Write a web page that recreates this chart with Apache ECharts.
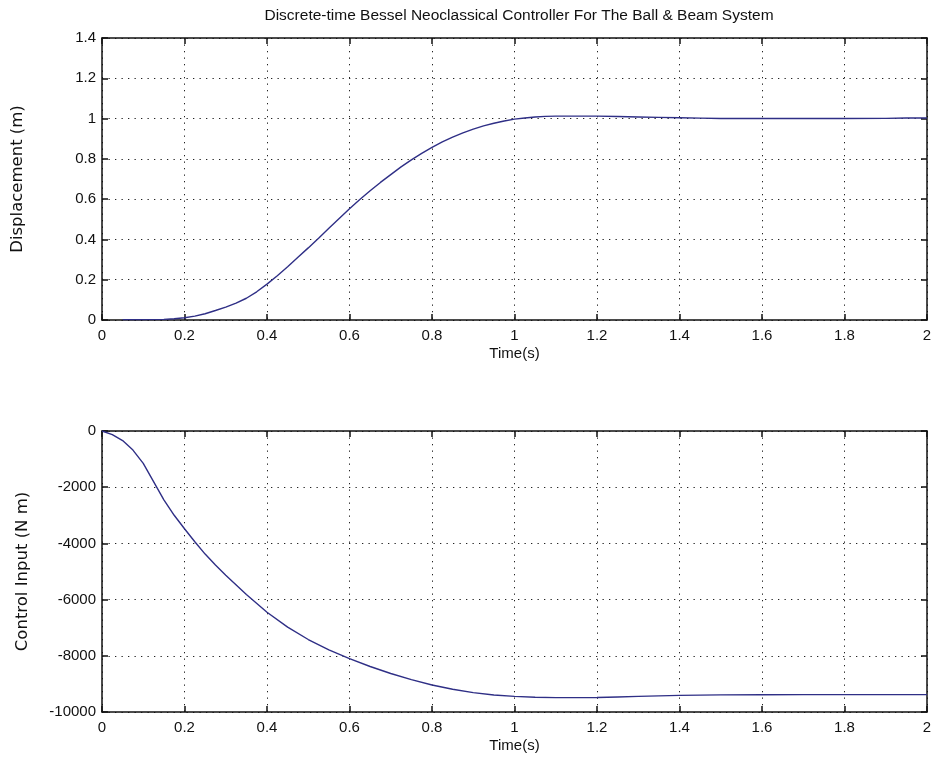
<!DOCTYPE html>
<html>
<head>
<meta charset="utf-8">
<script src="https://cdn.jsdelivr.net/npm/echarts@6/dist/echarts.min.js"></script>
<style>
  html, body { margin: 0; padding: 0; background: #ffffff; }
  #chart { width: 935px; height: 765px; }
</style>
</head>
<body>
<div id="chart"></div>
<script>
// Ball position response (m)
const timeDisp = [0.05, 0.10, 0.15, 0.175, 0.20, 0.225, 0.25, 0.275, 0.30, 0.325,
  0.35, 0.375, 0.40, 0.425, 0.45, 0.475, 0.50, 0.525, 0.55, 0.575,
  0.60, 0.625, 0.65, 0.675, 0.70, 0.725, 0.75, 0.775, 0.80, 0.825,
  0.85, 0.875, 0.90, 0.925, 0.95, 0.975, 1.00, 1.025, 1.05, 1.075,
  1.10, 1.15, 1.20, 1.25, 1.30, 1.35, 1.40, 1.45, 1.50, 1.60,
  1.70, 1.80, 1.90, 1.95, 2.00];
const displacement = [0.002, 0.002, 0.003, 0.006, 0.011, 0.019, 0.031, 0.047, 0.064, 0.084,
  0.108, 0.140, 0.178, 0.220, 0.264, 0.311, 0.358, 0.406, 0.455, 0.504,
  0.552, 0.598, 0.642, 0.683, 0.722, 0.760, 0.795, 0.827, 0.857, 0.884,
  0.908, 0.929, 0.948, 0.964, 0.977, 0.988, 0.997, 1.003, 1.008, 1.011,
  1.012, 1.012, 1.012, 1.010, 1.008, 1.006, 1.004, 1.002, 1.000, 1.000,
  1.000, 1.000, 1.001, 1.003, 1.003];

// Beam torque command (N m)
const timeCtrl = [0.00, 0.025, 0.05, 0.075, 0.10, 0.125, 0.15, 0.175, 0.20, 0.225,
  0.25, 0.275, 0.30, 0.35, 0.40, 0.45, 0.50, 0.55, 0.60, 0.65,
  0.70, 0.75, 0.80, 0.85, 0.90, 0.95, 1.00, 1.05, 1.10, 1.15,
  1.20, 1.25, 1.30, 1.35, 1.40, 1.45, 1.50, 1.60, 1.70, 1.80,
  1.90, 2.00];
const controlInput = [0, -130, -340, -680, -1150, -1800, -2450, -3000, -3480, -3940,
  -4380, -4770, -5130, -5820, -6450, -6980, -7420, -7790, -8100, -8380,
  -8630, -8850, -9040, -9190, -9310, -9395, -9445, -9475, -9490, -9490,
  -9482, -9465, -9445, -9425, -9410, -9398, -9390, -9385, -9382, -9380,
  -9380, -9380];

// Axis ranges and tick spacing
const timeTicks = { min: 0, max: 2, interval: 0.2 };
const dispTicks = { min: 0, max: 1.4, interval: 0.2 };
const ctrlTicks = { min: -10000, max: 0, interval: 2000 };

const titleText = 'Discrete-time Bessel Neoclassical Controller For The Ball & Beam System';

const FONT = 'Liberation Sans';
const INK = '#111111';
const LINE = '#2f2f86';

const gridDotted = {
  show: true,
  lineStyle: { color: '#222222', width: 1, type: [1.3, 5.2] }
};

function fmt(v) {
  return String(Math.round(v * 1000) / 1000);
}

function mainX(gridIndex) {
  return {
    type: 'value', gridIndex, position: 'bottom',
    min: timeTicks.min, max: timeTicks.max, interval: timeTicks.interval,
    name: 'Time(s)', nameLocation: 'middle', nameGap: 26,
    nameTextStyle: { fontFamily: FONT, fontSize: 15, color: INK },
    axisLine: { show: true, onZero: false, lineStyle: { color: INK, width: 1.5 } },
    axisTick: { show: true, inside: true, length: 6, lineStyle: { color: INK, width: 1.5 } },
    axisLabel: { fontFamily: FONT, fontSize: 15, color: INK, margin: 8, formatter: fmt },
    splitLine: gridDotted
  };
}

function boxX(gridIndex) {
  return {
    type: 'value', gridIndex, position: 'top',
    min: timeTicks.min, max: timeTicks.max, interval: timeTicks.interval,
    axisLine: { show: true, onZero: false, lineStyle: { color: INK, width: 1.5 } },
    axisTick: { show: true, inside: true, length: 6, lineStyle: { color: INK, width: 1.5 } },
    axisLabel: { show: false },
    splitLine: { show: false }
  };
}

function mainY(gridIndex, ticks, name, gap) {
  return {
    type: 'value', gridIndex, position: 'left',
    min: ticks.min, max: ticks.max, interval: ticks.interval,
    name, nameLocation: 'middle', nameGap: gap,
    nameTextStyle: { fontFamily: 'DejaVu Sans', fontSize: 16.5, color: INK },
    axisLine: { show: true, onZero: false, lineStyle: { color: INK, width: 1.5 } },
    axisTick: { show: true, inside: true, length: 6, lineStyle: { color: INK, width: 1.5 } },
    axisLabel: { fontFamily: FONT, fontSize: 15, color: INK, margin: 6, formatter: fmt },
    splitLine: gridDotted
  };
}

function boxY(gridIndex, ticks) {
  return {
    type: 'value', gridIndex, position: 'right',
    min: ticks.min, max: ticks.max, interval: ticks.interval,
    axisLine: { show: true, onZero: false, lineStyle: { color: INK, width: 1.5 } },
    axisTick: { show: true, inside: true, length: 6, lineStyle: { color: INK, width: 1.5 } },
    axisLabel: { show: false },
    splitLine: { show: false }
  };
}

const chart = echarts.init(document.getElementById('chart'), null, { renderer: 'canvas' });

chart.setOption({
  backgroundColor: '#ffffff',
  animation: false,
  title: {
    text: titleText,
    left: 514, top: 3, textAlign: 'center',
    textStyle: { fontFamily: FONT, fontSize: 15.5, fontWeight: 'normal', color: INK }
  },
  grid: [
    { left: 102, top: 38, width: 825, height: 282 },
    { left: 102, top: 431, width: 825, height: 281 }
  ],
  xAxis: [mainX(0), boxX(0), mainX(1), boxX(1)],
  yAxis: [
    mainY(0, dispTicks, 'Displacement (m)', 76),
    boxY(0, dispTicks),
    mainY(1, ctrlTicks, 'Control Input (N m)', 71),
    boxY(1, ctrlTicks)
  ],
  series: [
    {
      type: 'line', xAxisIndex: 0, yAxisIndex: 0,
      data: timeDisp.map((t, i) => [t, displacement[i]]),
      showSymbol: false,
      lineStyle: { color: LINE, width: 1.4 }
    },
    {
      type: 'line', xAxisIndex: 2, yAxisIndex: 2,
      data: timeCtrl.map((t, i) => [t, controlInput[i]]),
      showSymbol: false,
      lineStyle: { color: LINE, width: 1.4 }
    }
  ]
});
</script>
</body>
</html>
